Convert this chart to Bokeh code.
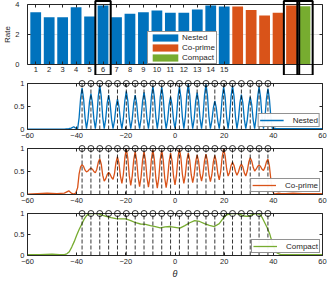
from bokeh.plotting import figure
from bokeh.models import Range1d, FixedTicker, LinearAxis, CustomJSTickFormatter
from bokeh.layouts import column
from bokeh.embed import file_html
from bokeh.resources import INLINE

# ---------------- data: top bar chart ----------------
bar_nested = [1, 2, 3, 4, 5, 6, 7, 8, 9, 10, 11, 12, 13, 14, 15]
rate_nested = [3.49, 3.15, 3.15, 3.82, 3.20, 3.93, 3.15, 3.38, 3.49, 3.60, 3.45, 3.45, 3.67, 3.93, 3.87]
bar_coprime = [16, 17, 18, 19, 20]
rate_coprime = [3.87, 3.64, 3.27, 3.45, 3.93]
bar_compact = [21]
rate_compact = [3.89]
highlight_bars = [6, 20, 21]
bar_ticks = [1, 2, 3, 4, 5, 6, 7, 8, 9, 10, 11, 12, 13, 14, 15]
rate_ticks = [0, 2, 4]

# ---------------- data: spatial spectra ----------------
doa_true = [-37.8, -34.2, -30.6, -27.0, -23.4, -19.8, -16.2, -12.6, -9.0, -5.4, -1.8,
            1.8, 5.4, 9.0, 12.6, 16.2, 19.8, 23.4, 27.0, 30.6, 34.2, 37.8]
doa_level = [1.0] * len(doa_true)
theta_ticks = [-60, -40, -20, 0, 20, 40, 60]
spec_ticks = [0, 0.5, 1]

theta_tail_left = [-60, -56, -52, -48, -45, -43.2, -42.2, -41.2, -40.4]
theta_mid = [-39.6, -39.0, -38.4, -37.8, -37.2, -36.6, -36.0, -35.4, -34.8, -34.2, -33.6, -33.0,
             -32.4, -31.8, -31.2, -30.6, -30.0, -29.4, -28.8, -28.2, -27.6, -27.0, -26.4, -25.8,
             -25.2, -24.6, -24.0, -23.4, -22.8, -22.2, -21.6, -21.0, -20.4, -19.8, -19.2, -18.6,
             -18.0, -17.4, -16.8, -16.2, -15.6, -15.0, -14.4, -13.8, -13.2, -12.6, -12.0, -11.4,
             -10.8, -10.2, -9.6, -9.0, -8.4, -7.8, -7.2, -6.6, -6.0, -5.4, -4.8, -4.2, -3.6, -3.0,
             -2.4, -1.8, -1.2, -0.6, 0.0, 0.6, 1.2, 1.8, 2.4, 3.0, 3.6, 4.2, 4.8, 5.4, 6.0, 6.6,
             7.2, 7.8, 8.4, 9.0, 9.6, 10.2, 10.8, 11.4, 12.0, 12.6, 13.2, 13.8, 14.4, 15.0, 15.6,
             16.2, 16.8, 17.4, 18.0, 18.6, 19.2, 19.8, 20.4, 21.0, 21.6, 22.2, 22.8, 23.4, 24.0,
             24.6, 25.2, 25.8, 26.4, 27.0, 27.6, 28.2, 28.8, 29.4, 30.0, 30.6, 31.2, 31.8, 32.4,
             33.0, 33.6, 34.2, 34.8, 35.4, 36.0, 36.6, 37.2, 37.8, 38.4, 39.0, 39.6]
theta_tail_right = [40.4, 41.2, 42.2, 43.2, 45, 48, 52, 56, 60]

nested_left = [0.01, 0.01, 0.01, 0.01, 0.01, 0.02, 0.03, 0.06, 0.03]
nested_mid = [0.02,
              0.26, 0.68, 0.90, 0.68, 0.26, 0.02,
              0.23, 0.59, 0.78, 0.59, 0.23, 0.02,
              0.27, 0.72, 0.96, 0.72, 0.27, 0.02,
              0.22, 0.57, 0.75, 0.57, 0.22, 0.02,
              0.20, 0.50, 0.66, 0.50, 0.20, 0.02,
              0.24, 0.63, 0.83, 0.63, 0.24, 0.02,
              0.22, 0.57, 0.75, 0.57, 0.22, 0.02,
              0.23, 0.61, 0.81, 0.61, 0.23, 0.02,
              0.27, 0.71, 0.94, 0.71, 0.27, 0.02,
              0.26, 0.70, 0.92, 0.70, 0.26, 0.02,
              0.21, 0.54, 0.71, 0.54, 0.21, 0.02,
              0.27, 0.70, 0.93, 0.70, 0.27, 0.02,
              0.28, 0.75, 0.99, 0.75, 0.28, 0.02,
              0.23, 0.61, 0.80, 0.61, 0.23, 0.02,
              0.28, 0.74, 0.98, 0.74, 0.28, 0.02,
              0.19, 0.47, 0.62, 0.47, 0.19, 0.02,
              0.27, 0.70, 0.93, 0.70, 0.27, 0.02,
              0.27, 0.72, 0.95, 0.72, 0.27, 0.02,
              0.22, 0.58, 0.76, 0.58, 0.22, 0.02,
              0.21, 0.54, 0.71, 0.54, 0.21, 0.02,
              0.27, 0.70, 0.93, 0.70, 0.27, 0.02,
              0.26, 0.67, 0.89, 0.67, 0.26, 0.02]
nested_right = [0.03, 0.02, 0.02, 0.02, 0.02, 0.02, 0.02, 0.02, 0.02]

coprime_left = [0.01, 0.02, 0.03, 0.02, 0.03, 0.08, 0.03, 0.01, 0.03]
coprime_mid = [0.15, 0.45, 0.60, 0.65,
               0.61, 0.53, 0.49, 0.51, 0.55, 0.57,
               0.55, 0.50, 0.47, 0.55, 0.70, 0.78,
               0.66, 0.42, 0.29, 0.34, 0.43, 0.48,
               0.44, 0.37, 0.33, 0.46, 0.70, 0.82,
               0.68, 0.40, 0.24, 0.44, 0.80, 0.99,
               0.79, 0.41, 0.20, 0.40, 0.75, 0.93,
               0.74, 0.38, 0.17, 0.38, 0.74, 0.93,
               0.74, 0.37, 0.16, 0.38, 0.77, 0.97,
               0.76, 0.36, 0.14, 0.36, 0.76, 0.96,
               0.76, 0.37, 0.15, 0.35, 0.71, 0.90,
               0.73, 0.40, 0.21, 0.42, 0.80, 0.99,
               0.80, 0.44, 0.24, 0.42, 0.74, 0.90,
               0.74, 0.43, 0.26, 0.42, 0.71, 0.86,
               0.72, 0.44, 0.29, 0.45, 0.73, 0.88,
               0.73, 0.44, 0.28, 0.43, 0.71, 0.85,
               0.72, 0.46, 0.32, 0.50, 0.82, 0.99,
               0.84, 0.56, 0.40, 0.48, 0.63, 0.70,
               0.63, 0.50, 0.42, 0.49, 0.60, 0.66,
               0.60, 0.47, 0.40, 0.51, 0.70, 0.80,
               0.73, 0.59, 0.51, 0.55, 0.61, 0.64,
               0.61, 0.55, 0.52, 0.59, 0.71, 0.77,
               0.62, 0.32, 0.08]
coprime_right = [0.01, 0.02, 0.03, 0.02, 0.02, 0.03, 0.02, 0.02, 0.02]

theta_compact = [-60, -55, -50, -47, -45, -44, -43, -42, -41, -40, -39, -38, -37, -36, -35,
                 -34, -33, -32, -31, -30, -28, -26, -24, -22, -20, -18, -16, -14, -12, -10,
                 -8, -6, -4, -2, 0, 2, 4, 6, 8, 10, 12, 14, 16, 18, 19.5, 21, 23, 25, 26.5, 28,
                 29.5, 31, 33, 34.5, 35.5, 36.5, 37.5, 38.5, 39.5, 40.5, 41.5, 43, 46, 50, 55, 60]
compact_vals = [0.02, 0.02, 0.03, 0.02, 0.02, 0.04, 0.09, 0.20, 0.33, 0.48, 0.62, 0.74, 0.86, 0.95, 0.99,
                1.00, 1.00, 1.00, 0.99, 0.97, 0.93, 0.90, 0.88, 0.87, 0.87, 0.83, 0.78, 0.75, 0.74, 0.71,
                0.69, 0.66, 0.68, 0.69, 0.67, 0.65, 0.71, 0.78, 0.83, 0.81, 0.76, 0.72, 0.69, 0.76, 0.88,
                0.97, 1.00, 1.00, 0.98, 0.94, 0.93, 0.96, 1.00, 0.98, 0.90, 0.78, 0.66, 0.52, 0.32, 0.15,
                0.06, 0.02, 0.02, 0.02, 0.02, 0.02]

theta_osc = theta_tail_left + theta_mid + theta_tail_right
nested_vals = nested_left + nested_mid + nested_right
coprime_vals = coprime_left + coprime_mid + coprime_right
assert len(theta_osc) == len(nested_vals) == len(coprime_vals), (len(theta_osc), len(nested_vals), len(coprime_vals))
assert len(theta_compact) == len(compact_vals)

C_NESTED = "#0072BD"
C_COPRIME = "#D95319"
C_COMPACT = "#77AC30"
AX = "#262626"
FONT = "Liberation Sans"
W = 327


def style_axis(ax, ticks, labels=True, standoff=3, fmt=None):
    ax.ticker = FixedTicker(ticks=ticks)
    ax.axis_line_color = AX
    ax.axis_line_width = 1
    ax.major_tick_line_color = AX
    ax.major_tick_line_width = 1
    ax.major_tick_in = 3
    ax.major_tick_out = 0
    ax.minor_tick_line_color = None
    ax.major_label_text_font = FONT
    if labels:
        ax.major_label_text_color = AX
        ax.major_label_text_font_size = "7.5px"
        ax.major_label_standoff = standoff
    else:
        ax.major_label_text_color = None
        ax.major_label_text_alpha = 0
        ax.major_label_text_font_size = "1px"
        ax.major_label_standoff = 0
    if fmt is not None:
        ax.formatter = fmt


def frame_axes(p, xt, yt, xstand=3, ystand=3, yfmt=None):
    p.outline_line_color = None
    p.xgrid.visible = False
    p.ygrid.visible = False
    bottom = p.xaxis[0]
    left = p.yaxis[0]
    style_axis(bottom, xt, standoff=xstand)
    style_axis(left, yt, standoff=ystand, fmt=yfmt)
    top = LinearAxis()
    style_axis(top, xt, labels=False)
    p.add_layout(top, "above")
    right = LinearAxis()
    style_axis(right, yt, labels=False)
    p.add_layout(right, "right")
    return bottom, left


# ---------------- top bar chart ----------------
p1 = figure(width=W, height=75, x_range=Range1d(0.39, 22.3), y_range=Range1d(0, 4),
            output_backend="svg", toolbar_location=None,
            min_border_left=23, min_border_right=4, min_border_top=4, min_border_bottom=11)
p1.vbar(x=bar_nested, top=rate_nested, width=0.8, fill_color=C_NESTED, line_color=None, legend_label="Nested")
p1.vbar(x=bar_coprime, top=rate_coprime, width=0.8, fill_color=C_COPRIME, line_color=None, legend_label="Co-prime")
p1.vbar(x=bar_compact, top=rate_compact, width=0.8, fill_color=C_COMPACT, line_color=None, legend_label="Compact")
bx1, ly1 = frame_axes(p1, bar_ticks, rate_ticks, xstand=2, ystand=8)
p1.ygrid.visible = True
p1.ygrid.grid_line_color = AX
p1.ygrid.grid_line_alpha = 0.15
ly1.axis_label = "Rate"
ly1.axis_label_text_font = FONT
ly1.axis_label_text_font_size = "8px"
ly1.axis_label_text_font_style = "normal"
ly1.axis_label_text_color = AX
ly1.axis_label_standoff = 0
hl = p1.quad(left=[b - 0.57 for b in highlight_bars], right=[b + 0.57 for b in highlight_bars],
             bottom=[-0.71] * len(highlight_bars), top=[4.23] * len(highlight_bars),
             fill_color=None, line_color="black", line_width=2)
hl.level = "overlay"
lg = p1.legend[0]
lg.location = (120, 0)
lg.margin = 0
lg.padding = 1
lg.spacing = 1
lg.glyph_width = 32
lg.glyph_height = 9
lg.label_height = 9
lg.label_standoff = 1
lg.label_text_font = FONT
lg.label_text_font_size = "8px"
lg.label_text_color = AX
lg.border_line_color = AX
lg.border_line_width = 1
lg.background_fill_alpha = 1

yfmt = CustomJSTickFormatter(code="return String(tick)")


def spectrum(theta, vals, color, label, top, bottom, xlabel=None):
    p = figure(width=W, height=top + 46 + bottom, x_range=Range1d(-60, 60), y_range=Range1d(0, 1),
               output_backend="svg", toolbar_location=None,
               min_border_left=15, min_border_right=5, min_border_top=top, min_border_bottom=bottom)
    p.line(theta, vals, line_color=color, line_width=1.3, legend_label=label)
    p.segment(x0=doa_true, y0=[0] * len(doa_true), x1=doa_true, y1=doa_level,
              line_color="black", line_dash="4 2", line_width=0.8)
    r = p.scatter(doa_true, doa_level, marker="circle", size=6, fill_color=None,
                  line_color="black", line_width=0.8)
    r.level = "overlay"
    bx, ly = frame_axes(p, theta_ticks, spec_ticks, xstand=3, ystand=3, yfmt=yfmt)
    if xlabel:
        bx.axis_label = xlabel
        bx.axis_label_text_font = FONT
        bx.axis_label_text_font_size = "9px"
        bx.axis_label_text_font_style = "italic"
        bx.axis_label_text_color = AX
        bx.axis_label_standoff = 2
    l = p.legend[0]
    l.location = "bottom_right"
    l.margin = 2
    l.padding = 1
    l.spacing = 0
    l.glyph_width = 24
    l.glyph_height = 10
    l.label_height = 10
    l.label_standoff = 9
    l.label_text_font = FONT
    l.label_text_font_size = "8px"
    l.label_text_color = AX
    l.border_line_color = AX
    l.border_line_width = 1
    return p


p2 = spectrum(theta_osc, nested_vals, C_NESTED, "Nested", 8, 12)
p3 = spectrum(theta_osc, coprime_vals, C_COPRIME, "Co-prime", 7, 12)
p4 = spectrum(theta_compact, compact_vals, C_COMPACT, "Compact", 7, 22, xlabel="θ")

layout = column(p1, p2, p3, p4, spacing=0)
open("out.html", "w").write(file_html(layout, INLINE))
